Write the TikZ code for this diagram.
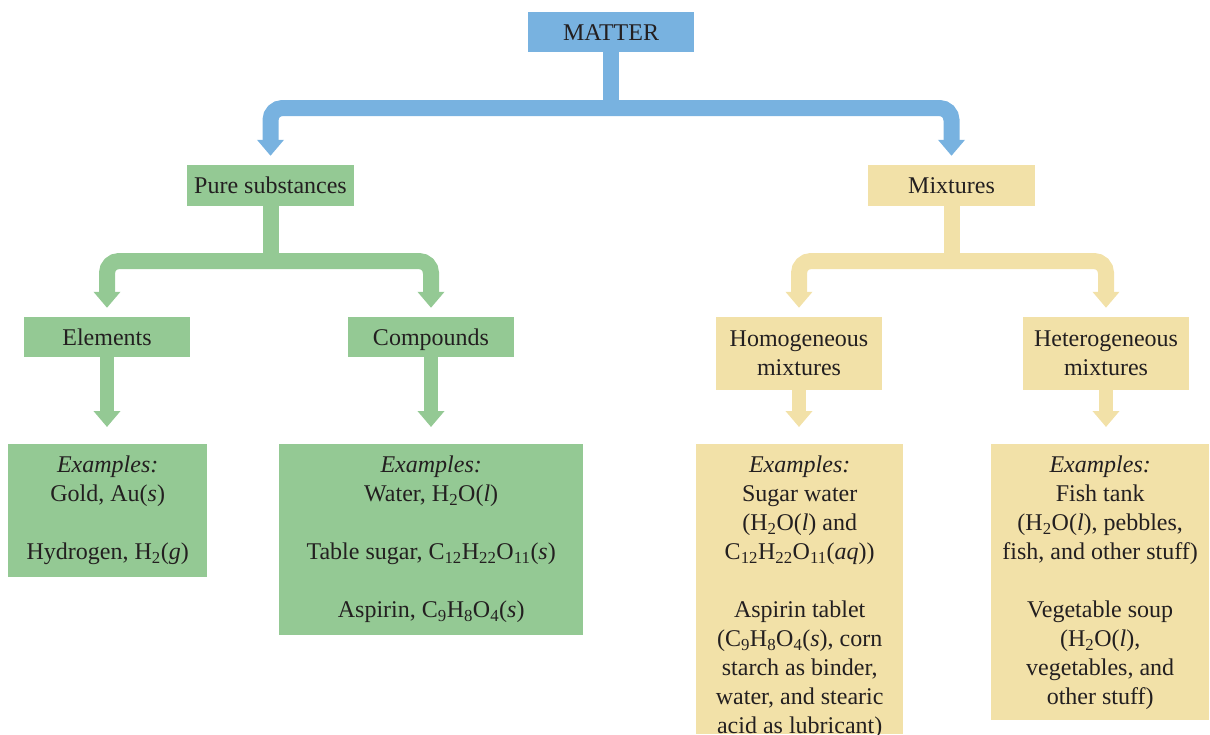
\documentclass[tikz,border=0pt]{standalone}
\usepackage{fontspec}
\setmainfont{Liberation Serif}
\usetikzlibrary{arrows.meta}
\definecolor{cblue}{RGB}{120,178,224}
\definecolor{cgreen}{RGB}{148,201,148}
\definecolor{cyellow}{RGB}{242,225,168}
\definecolor{ctext}{RGB}{35,31,32}
\begin{document}
\begin{tikzpicture}[x=1pt,y=-1pt,
  every node/.style={font=\fontsize{24}{29}\selectfont, text=ctext},
  box/.style={rectangle, inner sep=0pt, align=center},
  onebox/.style={box, text height=16.5pt, text depth=0.5pt},
  txt/.style={inner sep=0pt, align=center, anchor=north},
  stem/.style={line width=16pt},
  arr/.style={line width=16pt, rounded corners=12pt,
    {Triangle[width=26pt,length=16pt]}-{Triangle[width=26pt,length=16pt]},
    shorten >=9pt, shorten <=9pt},
  varr/.style={line width=14pt, -{Triangle[width=26pt,length=16pt]}, shorten >=17pt}
]
\useasboundingbox (0,0) rectangle (1210,734);

% level nodes
\node[onebox, fill=cblue, minimum width=166pt, minimum height=40pt] (matter) at (611,32) {MATTER};
\node[onebox, fill=cgreen, minimum width=167pt, minimum height=41pt] (pure) at (270.5,185.5) {Pure substances};
\node[onebox, fill=cyellow, minimum width=167pt, minimum height=41pt] (mix) at (951.5,185.5) {Mixtures};
\node[onebox, fill=cgreen, minimum width=166pt, minimum height=40pt] (elem) at (107,337) {Elements};
\node[onebox, fill=cgreen, minimum width=166pt, minimum height=40pt] (comp) at (431,337) {Compounds};
\node[box, fill=cyellow, minimum width=166pt, minimum height=73pt] (homo) at (799,353.5) {Homogeneous\\mixtures};
\node[box, fill=cyellow, minimum width=166pt, minimum height=73pt] (hetero) at (1106,353.5) {Heterogeneous\\mixtures};

% example boxes
\node[box, fill=cgreen, minimum width=199pt, minimum height=133pt, anchor=north west] (elex) at (8,444) {};
\node[box, fill=cgreen, minimum width=304pt, minimum height=191pt, anchor=north west] (compex) at (279,444) {};
\node[box, fill=cyellow, minimum width=207pt, minimum height=290pt, anchor=north west] (homex) at (696,444) {};
\node[box, fill=cyellow, minimum width=218pt, minimum height=276pt, anchor=north west] (hetex) at (991,444) {};

\node[txt] (elext) at ([yshift=-11.6pt]elex.north) {\textit{Examples:}\\Gold, Au(\textit{s})\\[29pt]Hydrogen, H\textsubscript{2}(\textit{g})};
\node[txt] (compext) at ([yshift=-11.6pt]compex.north) {\textit{Examples:}\\Water, H\textsubscript{2}O(\textit{l})\\[29pt]Table sugar, C\textsubscript{12}H\textsubscript{22}O\textsubscript{11}(\textit{s})\\[29pt]Aspirin, C\textsubscript{9}H\textsubscript{8}O\textsubscript{4}(\textit{s})};
\node[txt] (homext) at ([yshift=-11.6pt]homex.north) {\textit{Examples:}\\Sugar water\\(H\textsubscript{2}O(\textit{l}) and\\C\textsubscript{12}H\textsubscript{22}O\textsubscript{11}(\textit{aq}))\\[29pt]Aspirin tablet\\(C\textsubscript{9}H\textsubscript{8}O\textsubscript{4}(\textit{s}), corn\\starch as binder,\\water, and stearic\\acid as lubricant)};
\node[txt] (hetext) at ([yshift=-11.6pt]hetex.north) {\textit{Examples:}\\Fish tank\\(H\textsubscript{2}O(\textit{l}), pebbles,\\fish, and other stuff)\\[29pt]Vegetable soup\\(H\textsubscript{2}O(\textit{l}),\\vegetables, and\\other stuff)};

% blue connectors
\coordinate (bj) at (611,108);
\draw[stem, cblue] (matter.south) -- (bj);
\draw[arr, cblue] (pure.north) |- (bj) -| (mix.north);

% green connectors
\coordinate (gj) at (270.5,261);
\draw[stem, cgreen] (pure.south) -- (gj);
\draw[arr, cgreen] (elem.north) |- (gj) -| (comp.north);

% yellow connectors
\coordinate (yj) at (951.5,261);
\draw[stem, cyellow] (mix.south) -- (yj);
\draw[arr, cyellow] (homo.north) |- (yj) -| (hetero.north);

% vertical arrows to examples
\draw[varr, cgreen] (elem.south) -- (elem.south |- elex.north);
\draw[varr, cgreen] (comp.south) -- (comp.south |- compex.north);
\draw[varr, cyellow] (homo.south) -- (homo.south |- homex.north);
\draw[varr, cyellow] (hetero.south) -- (hetero.south |- hetex.north);
\end{tikzpicture}
\end{document}
